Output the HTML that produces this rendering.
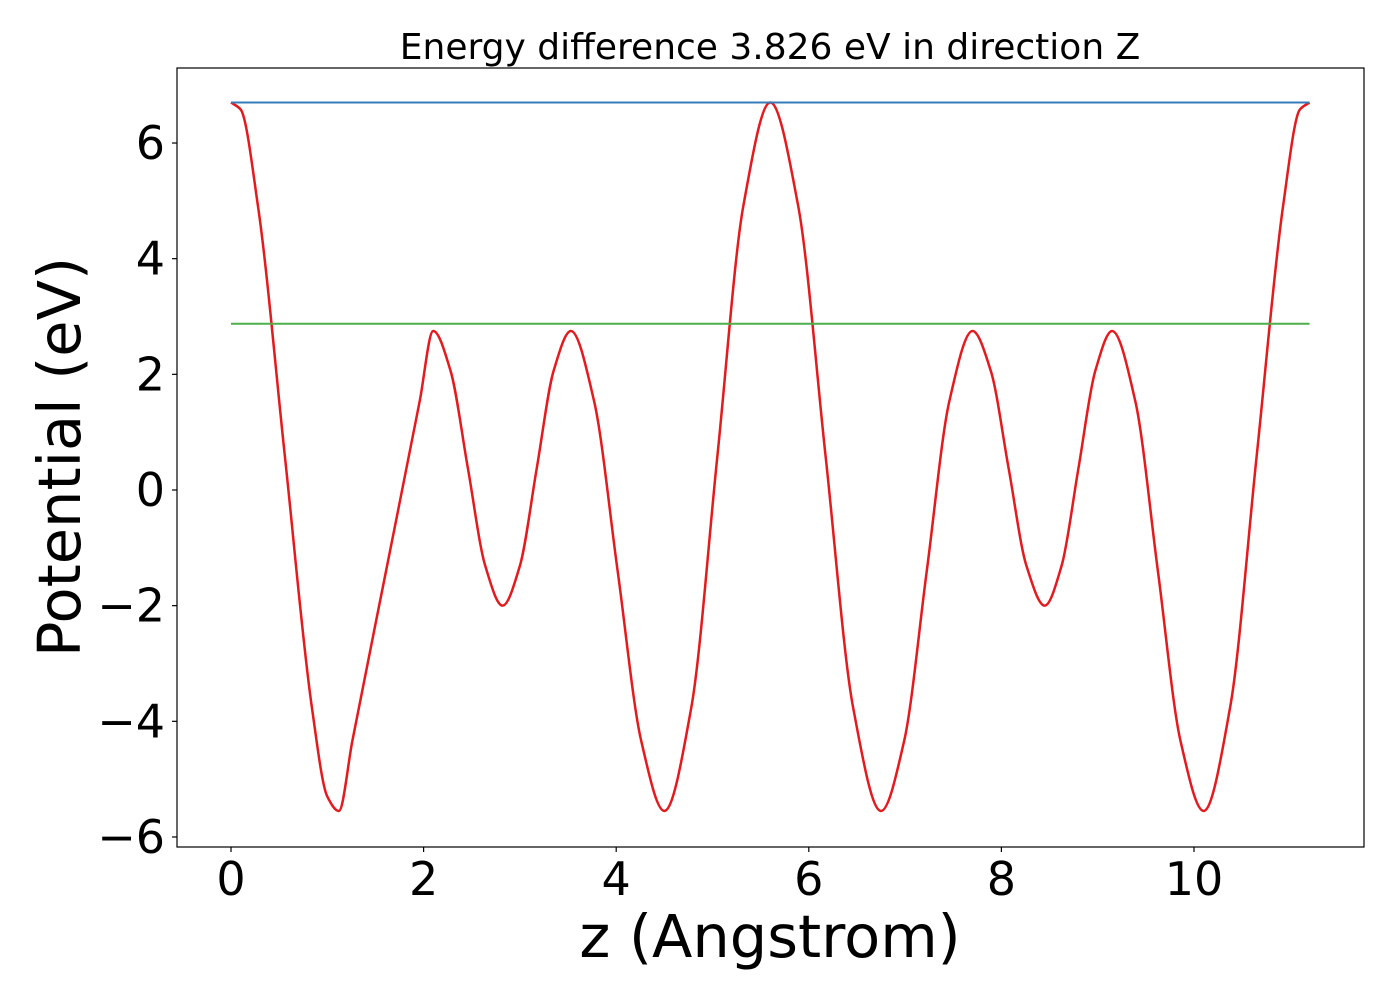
<!DOCTYPE html>
<html><head><meta charset="utf-8"><style>
body{margin:0;background:#fff;}
svg text{font-family:"DejaVu Sans","Liberation Sans",sans-serif;}
</style></head><body>
<svg id="chart" width="1400" height="1000" xmlns="http://www.w3.org/2000/svg">
<rect width="1400" height="1000" fill="#fff"/>
<g id="plot"></g>
</svg>
<script>
const zValues=[0,0.1,0.28,0.56,0.84,1.0,1.12,1.26,1.61,1.96,2.1,2.28,2.46,2.64,2.82,3.0,3.175,3.35,3.53,3.77,4.015,4.26,4.5,4.78,5.05,5.32,5.6,5.89,6.175,6.46,6.75,6.99,7.225,7.46,7.7,7.89,8.075,8.26,8.45,8.625,8.8,8.975,9.15,9.39,9.625,9.86,10.1,10.375,10.65,10.925,11.1,11.2];
const potential=[6.70,6.58,4.91,0.575,-3.76,-5.3,-5.55,-4.34,-1.4,1.54,2.75,2.06,0.375,-1.31,-2.0,-1.31,0.375,2.06,2.75,1.54,-1.4,-4.34,-5.55,-3.76,0.575,4.91,6.70,4.91,0.575,-3.76,-5.55,-4.34,-1.4,1.54,2.75,2.06,0.375,-1.31,-2.0,-1.31,0.375,2.06,2.75,1.54,-1.4,-4.34,-5.55,-3.76,0.575,4.91,6.58,6.70];
const maxLevel=6.70;
const energyDiff=3.826;
const xTicks=[0,2,4,6,8,10];
const yTicks=[-6,-4,-2,0,2,4,6];
const xMin=0,xMax=11.2;

const L=177,R=1364,T=68,B=847;
const sx=v=>231+v*96.3;
const sy=v=>490-v*57.83;
const g=document.getElementById('plot');
const NS='http://www.w3.org/2000/svg';
function mk(tag,attrs,parent){const e=document.createElementNS(NS,tag);for(const k in attrs)e.setAttribute(k,attrs[k]);(parent||g).appendChild(e);return e;}

// monotone cubic interpolation
const px=zValues.map(sx), py=potential.map(sy);
const n=px.length;
const sec=[];for(let i=0;i<n-1;i++)sec.push((py[i+1]-py[i])/(px[i+1]-px[i]));
const tan=[];
for(let i=0;i<n;i++){
 if(i===0)tan.push(sec[0]);else if(i===n-1)tan.push(sec[n-2]);
 else if(sec[i-1]*sec[i]<=0)tan.push(0);
 else{const a=px[i]-px[i-1],b=px[i+1]-px[i];tan.push(3*(a+b)/((2*b+a)/sec[i-1]+(b+2*a)/sec[i]));}
}
let d='M'+px[0]+','+py[0];
for(let i=0;i<n-1;i++){
 const h=(px[i+1]-px[i])/3;
 d+=` C${px[i]+h},${py[i]+tan[i]*h} ${px[i+1]-h},${py[i+1]-tan[i+1]*h} ${px[i+1]},${py[i+1]}`;
}
const curve=mk('path',{d:d,fill:'none',stroke:'#e41a1c','stroke-width':2.5});


const blue=mk('line',{x1:sx(xMin),x2:sx(xMax),y1:sy(maxLevel),y2:sy(maxLevel),stroke:'#377eb8','stroke-width':2});


const green=mk('line',{x1:sx(xMin),x2:sx(xMax),y1:sy(maxLevel-energyDiff),y2:sy(maxLevel-energyDiff),stroke:'#4daf4a','stroke-width':2});



const frame=mk('rect',{x:L,y:T,width:R-L,height:B-T,fill:'none',stroke:'#000','stroke-width':1.2});



xTicks.forEach(t=>{
 const x=sx(t);
 const tk=mk('line',{x1:x,x2:x,y1:B,y2:B+5,stroke:'#000','stroke-width':1.2});
 
 
 const tx=mk('text',{x:x,y:B+48,'text-anchor':'middle','font-size':46});
 tx.textContent=t;
 
 
});
yTicks.forEach(t=>{
 const y=sy(t);
 const tk=mk('line',{x1:L-5,x2:L,y1:y,y2:y,stroke:'#000','stroke-width':1.2});
 
 
 const tx=mk('text',{x:L-12,y:y+16,'text-anchor':'end','font-size':46});
 tx.textContent=(t<0?'\u2212':'')+Math.abs(t);
 
 
});
const title=mk('text',{x:770,y:59,'text-anchor':'middle','font-size':36});
title.textContent='Energy difference '+energyDiff.toFixed(3)+' eV in direction Z';


const xl=mk('text',{x:770,y:957,'text-anchor':'middle','font-size':59});
xl.textContent='z (Angstrom)';


const yl=mk('text',{x:0,y:0,'text-anchor':'middle','font-size':59,transform:'translate(80,457) rotate(-90)'});
yl.textContent='Potential (eV)';


</script>
</body></html>
